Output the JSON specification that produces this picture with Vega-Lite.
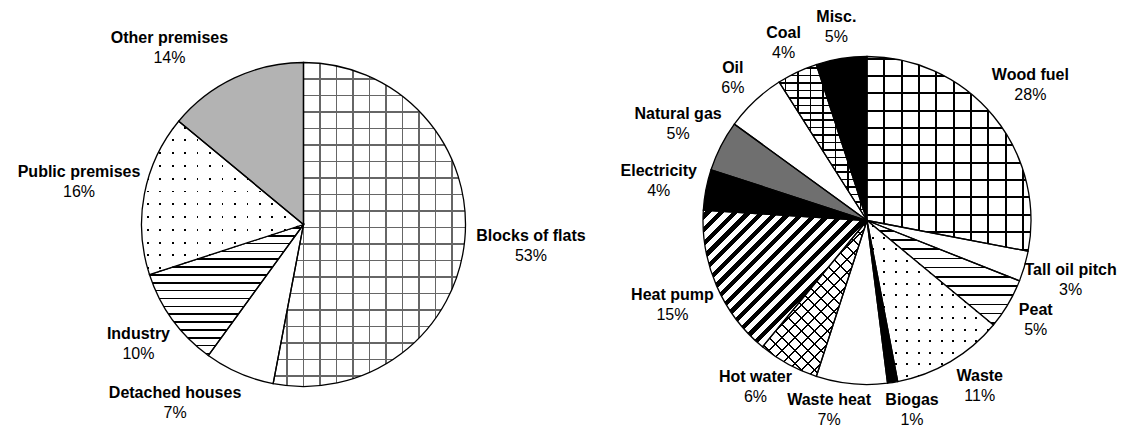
{
"$schema": "https://vega.github.io/schema/vega-lite/v6.json",
"padding": 0,
"spacing": 0,
"background": "white",
"config": {"view": {"stroke": null}, "text": {"font": "Liberation Sans", "fontSize": 16, "align": "center", "baseline": "middle", "color": "black"}},
"datasets": {
 "left": [
  {"cat": "Blocks of flats", "share": 0.53},
  {"cat": "Detached houses", "share": 0.07},
  {"cat": "Industry", "share": 0.10},
  {"cat": "Public premises", "share": 0.16},
  {"cat": "Other premises", "share": 0.14}
 ],
 "right": [
  {"cat": "Wood fuel", "share": 0.28},
  {"cat": "Tall oil pitch", "share": 0.03},
  {"cat": "Peat", "share": 0.05},
  {"cat": "Waste", "share": 0.11},
  {"cat": "Biogas", "share": 0.01},
  {"cat": "Waste heat", "share": 0.07},
  {"cat": "Hot water", "share": 0.06},
  {"cat": "Heat pump", "share": 0.15},
  {"cat": "Electricity", "share": 0.04},
  {"cat": "Natural gas", "share": 0.05},
  {"cat": "Oil", "share": 0.06},
  {"cat": "Coal", "share": 0.04},
  {"cat": "Misc.", "share": 0.05}
 ]
},
"hconcat": [
 {
  "width": 607, "height": 449,
  "data": {"name": "left"},
  "encoding": {"theta": {"field": "share", "type": "quantitative", "stack": true}},
  "layer": [
   {"mark": {"type": "arc", "outerRadius": 162},
    "encoding": {"fill": {"condition": [
     {"test": "datum.cat === 'Blocks of flats'", "value": {"gradient": "linear", "x1": 0, "y1": 0, "x2": 0, "y2": 1, "stops": [
      {"offset":0.0486,"color":"#fff"},{"offset":0.0486,"color":"#666"},{"offset":0.0532,"color":"#666"},{"offset":0.0532,"color":"#fff"},
      {"offset":0.0996,"color":"#fff"},{"offset":0.0996,"color":"#666"},{"offset":0.1042,"color":"#666"},{"offset":0.1042,"color":"#fff"},
      {"offset":0.1505,"color":"#fff"},{"offset":0.1505,"color":"#666"},{"offset":0.1551,"color":"#666"},{"offset":0.1551,"color":"#fff"},
      {"offset":0.2014,"color":"#fff"},{"offset":0.2014,"color":"#666"},{"offset":0.2060,"color":"#666"},{"offset":0.2060,"color":"#fff"},
      {"offset":0.2523,"color":"#fff"},{"offset":0.2523,"color":"#666"},{"offset":0.2569,"color":"#666"},{"offset":0.2569,"color":"#fff"},
      {"offset":0.3033,"color":"#fff"},{"offset":0.3033,"color":"#666"},{"offset":0.3079,"color":"#666"},{"offset":0.3079,"color":"#fff"},
      {"offset":0.3542,"color":"#fff"},{"offset":0.3542,"color":"#666"},{"offset":0.3588,"color":"#666"},{"offset":0.3588,"color":"#fff"},
      {"offset":0.4051,"color":"#fff"},{"offset":0.4051,"color":"#666"},{"offset":0.4097,"color":"#666"},{"offset":0.4097,"color":"#fff"},
      {"offset":0.4560,"color":"#fff"},{"offset":0.4560,"color":"#666"},{"offset":0.4606,"color":"#666"},{"offset":0.4606,"color":"#fff"},
      {"offset":0.5070,"color":"#fff"},{"offset":0.5070,"color":"#666"},{"offset":0.5116,"color":"#666"},{"offset":0.5116,"color":"#fff"},
      {"offset":0.5579,"color":"#fff"},{"offset":0.5579,"color":"#666"},{"offset":0.5625,"color":"#666"},{"offset":0.5625,"color":"#fff"},
      {"offset":0.6088,"color":"#fff"},{"offset":0.6088,"color":"#666"},{"offset":0.6134,"color":"#666"},{"offset":0.6134,"color":"#fff"},
      {"offset":0.6597,"color":"#fff"},{"offset":0.6597,"color":"#666"},{"offset":0.6643,"color":"#666"},{"offset":0.6643,"color":"#fff"},
      {"offset":0.7107,"color":"#fff"},{"offset":0.7107,"color":"#666"},{"offset":0.7153,"color":"#666"},{"offset":0.7153,"color":"#fff"},
      {"offset":0.7616,"color":"#fff"},{"offset":0.7616,"color":"#666"},{"offset":0.7662,"color":"#666"},{"offset":0.7662,"color":"#fff"},
      {"offset":0.8125,"color":"#fff"},{"offset":0.8125,"color":"#666"},{"offset":0.8171,"color":"#666"},{"offset":0.8171,"color":"#fff"},
      {"offset":0.8634,"color":"#fff"},{"offset":0.8634,"color":"#666"},{"offset":0.8680,"color":"#666"},{"offset":0.8680,"color":"#fff"},
      {"offset":0.9144,"color":"#fff"},{"offset":0.9144,"color":"#666"},{"offset":0.9190,"color":"#666"},{"offset":0.9190,"color":"#fff"},
      {"offset":0.9653,"color":"#fff"},{"offset":0.9653,"color":"#666"},{"offset":0.9699,"color":"#666"},{"offset":0.9699,"color":"#fff"}
     ]}},
     {"test": "datum.cat === 'Industry'", "value": {"gradient": "linear", "x1": 0, "y1": 0, "x2": 0, "y2": 1, "stops": [
      {"offset":0.0198,"color":"#fff"},{"offset":0.0198,"color":"#000"},{"offset":0.0320,"color":"#000"},{"offset":0.0320,"color":"#fff"},
      {"offset":0.0797,"color":"#fff"},{"offset":0.0797,"color":"#000"},{"offset":0.0919,"color":"#000"},{"offset":0.0919,"color":"#fff"},
      {"offset":0.1396,"color":"#fff"},{"offset":0.1396,"color":"#000"},{"offset":0.1518,"color":"#000"},{"offset":0.1518,"color":"#fff"},
      {"offset":0.1995,"color":"#fff"},{"offset":0.1995,"color":"#000"},{"offset":0.2117,"color":"#000"},{"offset":0.2117,"color":"#fff"},
      {"offset":0.2593,"color":"#fff"},{"offset":0.2593,"color":"#000"},{"offset":0.2715,"color":"#000"},{"offset":0.2715,"color":"#fff"},
      {"offset":0.3192,"color":"#fff"},{"offset":0.3192,"color":"#000"},{"offset":0.3314,"color":"#000"},{"offset":0.3314,"color":"#fff"},
      {"offset":0.3791,"color":"#fff"},{"offset":0.3791,"color":"#000"},{"offset":0.3913,"color":"#000"},{"offset":0.3913,"color":"#fff"},
      {"offset":0.4390,"color":"#fff"},{"offset":0.4390,"color":"#000"},{"offset":0.4512,"color":"#000"},{"offset":0.4512,"color":"#fff"},
      {"offset":0.4989,"color":"#fff"},{"offset":0.4989,"color":"#000"},{"offset":0.5111,"color":"#000"},{"offset":0.5111,"color":"#fff"},
      {"offset":0.5587,"color":"#fff"},{"offset":0.5587,"color":"#000"},{"offset":0.5709,"color":"#000"},{"offset":0.5709,"color":"#fff"},
      {"offset":0.6186,"color":"#fff"},{"offset":0.6186,"color":"#000"},{"offset":0.6308,"color":"#000"},{"offset":0.6308,"color":"#fff"},
      {"offset":0.6785,"color":"#fff"},{"offset":0.6785,"color":"#000"},{"offset":0.6907,"color":"#000"},{"offset":0.6907,"color":"#fff"},
      {"offset":0.7384,"color":"#fff"},{"offset":0.7384,"color":"#000"},{"offset":0.7506,"color":"#000"},{"offset":0.7506,"color":"#fff"},
      {"offset":0.7982,"color":"#fff"},{"offset":0.7982,"color":"#000"},{"offset":0.8104,"color":"#000"},{"offset":0.8104,"color":"#fff"},
      {"offset":0.8581,"color":"#fff"},{"offset":0.8581,"color":"#000"},{"offset":0.8703,"color":"#000"},{"offset":0.8703,"color":"#fff"},
      {"offset":0.9180,"color":"#fff"},{"offset":0.9180,"color":"#000"},{"offset":0.9302,"color":"#000"},{"offset":0.9302,"color":"#fff"},
      {"offset":0.9779,"color":"#fff"},{"offset":0.9779,"color":"#000"},{"offset":0.9901,"color":"#000"},{"offset":0.9901,"color":"#fff"}
     ]}},
     {"test": "datum.cat === 'Public premises'", "value": {"gradient": "linear", "x1": 0, "y1": 0, "x2": 0, "y2": 1, "stops": [
      {"offset":0.0358,"color":"#fff"},{"offset":0.0358,"color":"#000"},{"offset":0.0476,"color":"#000"},{"offset":0.0476,"color":"#fff"},
      {"offset":0.1191,"color":"#fff"},{"offset":0.1191,"color":"#000"},{"offset":0.1309,"color":"#000"},{"offset":0.1309,"color":"#fff"},
      {"offset":0.2024,"color":"#fff"},{"offset":0.2024,"color":"#000"},{"offset":0.2142,"color":"#000"},{"offset":0.2142,"color":"#fff"},
      {"offset":0.2858,"color":"#fff"},{"offset":0.2858,"color":"#000"},{"offset":0.2976,"color":"#000"},{"offset":0.2976,"color":"#fff"},
      {"offset":0.3691,"color":"#fff"},{"offset":0.3691,"color":"#000"},{"offset":0.3809,"color":"#000"},{"offset":0.3809,"color":"#fff"},
      {"offset":0.4524,"color":"#fff"},{"offset":0.4524,"color":"#000"},{"offset":0.4642,"color":"#000"},{"offset":0.4642,"color":"#fff"},
      {"offset":0.5358,"color":"#fff"},{"offset":0.5358,"color":"#000"},{"offset":0.5476,"color":"#000"},{"offset":0.5476,"color":"#fff"},
      {"offset":0.6191,"color":"#fff"},{"offset":0.6191,"color":"#000"},{"offset":0.6309,"color":"#000"},{"offset":0.6309,"color":"#fff"},
      {"offset":0.7024,"color":"#fff"},{"offset":0.7024,"color":"#000"},{"offset":0.7142,"color":"#000"},{"offset":0.7142,"color":"#fff"},
      {"offset":0.7858,"color":"#fff"},{"offset":0.7858,"color":"#000"},{"offset":0.7976,"color":"#000"},{"offset":0.7976,"color":"#fff"},
      {"offset":0.8691,"color":"#fff"},{"offset":0.8691,"color":"#000"},{"offset":0.8809,"color":"#000"},{"offset":0.8809,"color":"#fff"},
      {"offset":0.9524,"color":"#fff"},{"offset":0.9524,"color":"#000"},{"offset":0.9642,"color":"#000"},{"offset":0.9642,"color":"#fff"}
     ]}},
     {"test": "datum.cat === 'Other premises'", "value": "#b3b3b3"}
    ], "value": "white"}}},
   {"mark": {"type": "arc", "outerRadius": 162, "stroke": "black", "strokeWidth": 1.3},
    "encoding": {"fill": {"condition": [
     {"test": "datum.cat === 'Blocks of flats'", "value": {"gradient": "linear", "x1": 0, "y1": 0, "x2": 1, "y2": 0, "stops": [
      {"offset":0.0679,"color":"rgba(0,0,0,0)"},{"offset":0.0679,"color":"#666"},{"offset":0.0757,"color":"#666"},{"offset":0.0757,"color":"rgba(0,0,0,0)"},
      {"offset":0.1537,"color":"rgba(0,0,0,0)"},{"offset":0.1537,"color":"#666"},{"offset":0.1615,"color":"#666"},{"offset":0.1615,"color":"rgba(0,0,0,0)"},
      {"offset":0.2395,"color":"rgba(0,0,0,0)"},{"offset":0.2395,"color":"#666"},{"offset":0.2473,"color":"#666"},{"offset":0.2473,"color":"rgba(0,0,0,0)"},
      {"offset":0.3253,"color":"rgba(0,0,0,0)"},{"offset":0.3253,"color":"#666"},{"offset":0.3331,"color":"#666"},{"offset":0.3331,"color":"rgba(0,0,0,0)"},
      {"offset":0.4111,"color":"rgba(0,0,0,0)"},{"offset":0.4111,"color":"#666"},{"offset":0.4189,"color":"#666"},{"offset":0.4189,"color":"rgba(0,0,0,0)"},
      {"offset":0.4969,"color":"rgba(0,0,0,0)"},{"offset":0.4969,"color":"#666"},{"offset":0.5047,"color":"#666"},{"offset":0.5047,"color":"rgba(0,0,0,0)"},
      {"offset":0.5827,"color":"rgba(0,0,0,0)"},{"offset":0.5827,"color":"#666"},{"offset":0.5905,"color":"#666"},{"offset":0.5905,"color":"rgba(0,0,0,0)"},
      {"offset":0.6685,"color":"rgba(0,0,0,0)"},{"offset":0.6685,"color":"#666"},{"offset":0.6763,"color":"#666"},{"offset":0.6763,"color":"rgba(0,0,0,0)"},
      {"offset":0.7543,"color":"rgba(0,0,0,0)"},{"offset":0.7543,"color":"#666"},{"offset":0.7621,"color":"#666"},{"offset":0.7621,"color":"rgba(0,0,0,0)"},
      {"offset":0.8401,"color":"rgba(0,0,0,0)"},{"offset":0.8401,"color":"#666"},{"offset":0.8479,"color":"#666"},{"offset":0.8479,"color":"rgba(0,0,0,0)"},
      {"offset":0.9259,"color":"rgba(0,0,0,0)"},{"offset":0.9259,"color":"#666"},{"offset":0.9337,"color":"#666"},{"offset":0.9337,"color":"rgba(0,0,0,0)"}
     ]}},
     {"test": "datum.cat === 'Public premises'", "value": {"gradient": "linear", "x1": 0, "y1": 0, "x2": 1, "y2": 0, "stops": [
      {"offset":0.0329,"color":"#fff"},{"offset":0.0329,"color":"rgba(0,0,0,0)"},{"offset":0.0441,"color":"rgba(0,0,0,0)"},{"offset":0.0441,"color":"#fff"},
      {"offset":0.1098,"color":"#fff"},{"offset":0.1098,"color":"rgba(0,0,0,0)"},{"offset":0.1210,"color":"rgba(0,0,0,0)"},{"offset":0.1210,"color":"#fff"},
      {"offset":0.1867,"color":"#fff"},{"offset":0.1867,"color":"rgba(0,0,0,0)"},{"offset":0.1979,"color":"rgba(0,0,0,0)"},{"offset":0.1979,"color":"#fff"},
      {"offset":0.2636,"color":"#fff"},{"offset":0.2636,"color":"rgba(0,0,0,0)"},{"offset":0.2748,"color":"rgba(0,0,0,0)"},{"offset":0.2748,"color":"#fff"},
      {"offset":0.3406,"color":"#fff"},{"offset":0.3406,"color":"rgba(0,0,0,0)"},{"offset":0.3518,"color":"rgba(0,0,0,0)"},{"offset":0.3518,"color":"#fff"},
      {"offset":0.4175,"color":"#fff"},{"offset":0.4175,"color":"rgba(0,0,0,0)"},{"offset":0.4287,"color":"rgba(0,0,0,0)"},{"offset":0.4287,"color":"#fff"},
      {"offset":0.4944,"color":"#fff"},{"offset":0.4944,"color":"rgba(0,0,0,0)"},{"offset":0.5056,"color":"rgba(0,0,0,0)"},{"offset":0.5056,"color":"#fff"},
      {"offset":0.5713,"color":"#fff"},{"offset":0.5713,"color":"rgba(0,0,0,0)"},{"offset":0.5825,"color":"rgba(0,0,0,0)"},{"offset":0.5825,"color":"#fff"},
      {"offset":0.6482,"color":"#fff"},{"offset":0.6482,"color":"rgba(0,0,0,0)"},{"offset":0.6594,"color":"rgba(0,0,0,0)"},{"offset":0.6594,"color":"#fff"},
      {"offset":0.7252,"color":"#fff"},{"offset":0.7252,"color":"rgba(0,0,0,0)"},{"offset":0.7364,"color":"rgba(0,0,0,0)"},{"offset":0.7364,"color":"#fff"},
      {"offset":0.8021,"color":"#fff"},{"offset":0.8021,"color":"rgba(0,0,0,0)"},{"offset":0.8133,"color":"rgba(0,0,0,0)"},{"offset":0.8133,"color":"#fff"},
      {"offset":0.8790,"color":"#fff"},{"offset":0.8790,"color":"rgba(0,0,0,0)"},{"offset":0.8902,"color":"rgba(0,0,0,0)"},{"offset":0.8902,"color":"#fff"},
      {"offset":0.9559,"color":"#fff"},{"offset":0.9559,"color":"rgba(0,0,0,0)"},{"offset":0.9671,"color":"rgba(0,0,0,0)"},{"offset":0.9671,"color":"#fff"}
     ]}}
    ], "value": "transparent"}}},
   {"mark": {"type": "text", "radius": 228.5, "dy": -10, "fontWeight": "bold"},
    "encoding": {"text": {"condition": {"test": "datum.cat === 'Blocks of flats' || datum.cat === 'Public premises'", "value": {"expr": "datum.cat"}}, "value": ""},
     "size": {"condition": {"test": "datum.cat === 'Blocks of flats' || datum.cat === 'Public premises'", "value": 16}, "value": 0}}},
   {"mark": {"type": "text", "radius": 228.5, "dy": 10},
    "encoding": {"text": {"condition": {"test": "datum.cat === 'Blocks of flats' || datum.cat === 'Public premises'", "value": {"expr": "format(datum.share, '.0%')"}}, "value": ""},
     "size": {"condition": {"test": "datum.cat === 'Blocks of flats' || datum.cat === 'Public premises'", "value": 16}, "value": 0}}},
   {"mark": {"type": "text", "radius": 204, "dy": -10, "fontWeight": "bold"},
    "encoding": {"text": {"condition": {"test": "datum.cat === 'Industry'", "value": {"expr": "datum.cat"}}, "value": ""},
     "size": {"condition": {"test": "datum.cat === 'Industry'", "value": 16}, "value": 0}}},
   {"mark": {"type": "text", "radius": 204, "dy": 10},
    "encoding": {"text": {"condition": {"test": "datum.cat === 'Industry'", "value": {"expr": "format(datum.share, '.0%')"}}, "value": ""},
     "size": {"condition": {"test": "datum.cat === 'Industry'", "value": 16}, "value": 0}}},
   {"mark": {"type": "text", "radius": 195, "dx": -51, "dy": -10, "fontWeight": "bold"},
    "encoding": {"text": {"condition": {"test": "datum.cat === 'Other premises' || datum.cat === 'Detached houses'", "value": {"expr": "datum.cat"}}, "value": ""},
     "size": {"condition": {"test": "datum.cat === 'Other premises' || datum.cat === 'Detached houses'", "value": 16}, "value": 0}}},
   {"mark": {"type": "text", "radius": 195, "dx": -51, "dy": 10},
    "encoding": {"text": {"condition": {"test": "datum.cat === 'Other premises' || datum.cat === 'Detached houses'", "value": {"expr": "format(datum.share, '.0%')"}}, "value": ""},
     "size": {"condition": {"test": "datum.cat === 'Other premises' || datum.cat === 'Detached houses'", "value": 16}, "value": 0}}}
  ]
 },
 {
  "width": 520, "height": 441,
  "data": {"name": "right"},
  "encoding": {"theta": {"field": "share", "type": "quantitative", "stack": true}},
  "layer": [
   {"mark": {"type": "arc", "outerRadius": 164},
    "encoding": {"fill": {"condition": [
     {"test": "datum.cat === 'Wood fuel'", "value": {"gradient": "linear", "x1": 0, "y1": 0, "x2": 0, "y2": 1, "stops": [
      {"offset":0.0059,"color":"#fff"},{"offset":0.0059,"color":"#000"},{"offset":0.0161,"color":"#000"},{"offset":0.0161,"color":"#fff"},
      {"offset":0.0951,"color":"#fff"},{"offset":0.0951,"color":"#000"},{"offset":0.1053,"color":"#000"},{"offset":0.1053,"color":"#fff"},
      {"offset":0.1842,"color":"#fff"},{"offset":0.1842,"color":"#000"},{"offset":0.1944,"color":"#000"},{"offset":0.1944,"color":"#fff"},
      {"offset":0.2733,"color":"#fff"},{"offset":0.2733,"color":"#000"},{"offset":0.2835,"color":"#000"},{"offset":0.2835,"color":"#fff"},
      {"offset":0.3624,"color":"#fff"},{"offset":0.3624,"color":"#000"},{"offset":0.3726,"color":"#000"},{"offset":0.3726,"color":"#fff"},
      {"offset":0.4515,"color":"#fff"},{"offset":0.4515,"color":"#000"},{"offset":0.4617,"color":"#000"},{"offset":0.4617,"color":"#fff"},
      {"offset":0.5406,"color":"#fff"},{"offset":0.5406,"color":"#000"},{"offset":0.5508,"color":"#000"},{"offset":0.5508,"color":"#fff"},
      {"offset":0.6297,"color":"#fff"},{"offset":0.6297,"color":"#000"},{"offset":0.6399,"color":"#000"},{"offset":0.6399,"color":"#fff"},
      {"offset":0.7188,"color":"#fff"},{"offset":0.7188,"color":"#000"},{"offset":0.7290,"color":"#000"},{"offset":0.7290,"color":"#fff"},
      {"offset":0.8079,"color":"#fff"},{"offset":0.8079,"color":"#000"},{"offset":0.8181,"color":"#000"},{"offset":0.8181,"color":"#fff"},
      {"offset":0.8971,"color":"#fff"},{"offset":0.8971,"color":"#000"},{"offset":0.9073,"color":"#000"},{"offset":0.9073,"color":"#fff"},
      {"offset":0.9862,"color":"#fff"},{"offset":0.9862,"color":"#000"},{"offset":0.9964,"color":"#000"},{"offset":0.9964,"color":"#fff"}
     ]}},
     {"test": "datum.cat === 'Peat'", "value": {"gradient": "linear", "x1": 0, "y1": 0, "x2": 0, "y2": 1, "stops": [
      {"offset":0.0024,"color":"#fff"},{"offset":0.0024,"color":"#000"},{"offset":0.0186,"color":"#000"},{"offset":0.0186,"color":"#fff"},
      {"offset":0.0905,"color":"#fff"},{"offset":0.0905,"color":"#000"},{"offset":0.1067,"color":"#000"},{"offset":0.1067,"color":"#fff"},
      {"offset":0.1785,"color":"#fff"},{"offset":0.1785,"color":"#000"},{"offset":0.1947,"color":"#000"},{"offset":0.1947,"color":"#fff"},
      {"offset":0.2665,"color":"#fff"},{"offset":0.2665,"color":"#000"},{"offset":0.2827,"color":"#000"},{"offset":0.2827,"color":"#fff"},
      {"offset":0.3546,"color":"#fff"},{"offset":0.3546,"color":"#000"},{"offset":0.3708,"color":"#000"},{"offset":0.3708,"color":"#fff"},
      {"offset":0.4426,"color":"#fff"},{"offset":0.4426,"color":"#000"},{"offset":0.4588,"color":"#000"},{"offset":0.4588,"color":"#fff"},
      {"offset":0.5307,"color":"#fff"},{"offset":0.5307,"color":"#000"},{"offset":0.5469,"color":"#000"},{"offset":0.5469,"color":"#fff"},
      {"offset":0.6187,"color":"#fff"},{"offset":0.6187,"color":"#000"},{"offset":0.6349,"color":"#000"},{"offset":0.6349,"color":"#fff"},
      {"offset":0.7067,"color":"#fff"},{"offset":0.7067,"color":"#000"},{"offset":0.7229,"color":"#000"},{"offset":0.7229,"color":"#fff"},
      {"offset":0.7948,"color":"#fff"},{"offset":0.7948,"color":"#000"},{"offset":0.8110,"color":"#000"},{"offset":0.8110,"color":"#fff"},
      {"offset":0.8828,"color":"#fff"},{"offset":0.8828,"color":"#000"},{"offset":0.8990,"color":"#000"},{"offset":0.8990,"color":"#fff"},
      {"offset":0.9708,"color":"#fff"},{"offset":0.9708,"color":"#000"},{"offset":0.9870,"color":"#000"},{"offset":0.9870,"color":"#fff"}
     ]}},
     {"test": "datum.cat === 'Waste'", "value": {"gradient": "linear", "x1": 0, "y1": 0, "x2": 0, "y2": 1, "stops": [
      {"offset":0.0295,"color":"#fff"},{"offset":0.0295,"color":"#000"},{"offset":0.0419,"color":"#000"},{"offset":0.0419,"color":"#fff"},
      {"offset":0.1009,"color":"#fff"},{"offset":0.1009,"color":"#000"},{"offset":0.1133,"color":"#000"},{"offset":0.1133,"color":"#fff"},
      {"offset":0.1724,"color":"#fff"},{"offset":0.1724,"color":"#000"},{"offset":0.1848,"color":"#000"},{"offset":0.1848,"color":"#fff"},
      {"offset":0.2438,"color":"#fff"},{"offset":0.2438,"color":"#000"},{"offset":0.2562,"color":"#000"},{"offset":0.2562,"color":"#fff"},
      {"offset":0.3152,"color":"#fff"},{"offset":0.3152,"color":"#000"},{"offset":0.3276,"color":"#000"},{"offset":0.3276,"color":"#fff"},
      {"offset":0.3867,"color":"#fff"},{"offset":0.3867,"color":"#000"},{"offset":0.3991,"color":"#000"},{"offset":0.3991,"color":"#fff"},
      {"offset":0.4581,"color":"#fff"},{"offset":0.4581,"color":"#000"},{"offset":0.4705,"color":"#000"},{"offset":0.4705,"color":"#fff"},
      {"offset":0.5295,"color":"#fff"},{"offset":0.5295,"color":"#000"},{"offset":0.5419,"color":"#000"},{"offset":0.5419,"color":"#fff"},
      {"offset":0.6009,"color":"#fff"},{"offset":0.6009,"color":"#000"},{"offset":0.6133,"color":"#000"},{"offset":0.6133,"color":"#fff"},
      {"offset":0.6724,"color":"#fff"},{"offset":0.6724,"color":"#000"},{"offset":0.6848,"color":"#000"},{"offset":0.6848,"color":"#fff"},
      {"offset":0.7438,"color":"#fff"},{"offset":0.7438,"color":"#000"},{"offset":0.7562,"color":"#000"},{"offset":0.7562,"color":"#fff"},
      {"offset":0.8152,"color":"#fff"},{"offset":0.8152,"color":"#000"},{"offset":0.8276,"color":"#000"},{"offset":0.8276,"color":"#fff"},
      {"offset":0.8867,"color":"#fff"},{"offset":0.8867,"color":"#000"},{"offset":0.8991,"color":"#000"},{"offset":0.8991,"color":"#fff"},
      {"offset":0.9581,"color":"#fff"},{"offset":0.9581,"color":"#000"},{"offset":0.9705,"color":"#000"},{"offset":0.9705,"color":"#fff"}
     ]}},
     {"test": "datum.cat === 'Biogas' || datum.cat === 'Electricity' || datum.cat === 'Misc.'", "value": "black"},
     {"test": "datum.cat === 'Natural gas'", "value": "#6f6f6f"},
     {"test": "datum.cat === 'Hot water'", "value": {"gradient": "linear", "x1": 0, "y1": 0, "x2": 0.7725, "y2": 1.152, "stops": [
      {"offset":0.0215,"color":"#fff"},{"offset":0.0215,"color":"#000"},{"offset":0.0285,"color":"#000"},{"offset":0.0285,"color":"#fff"},
      {"offset":0.0715,"color":"#fff"},{"offset":0.0715,"color":"#000"},{"offset":0.0785,"color":"#000"},{"offset":0.0785,"color":"#fff"},
      {"offset":0.1215,"color":"#fff"},{"offset":0.1215,"color":"#000"},{"offset":0.1285,"color":"#000"},{"offset":0.1285,"color":"#fff"},
      {"offset":0.1715,"color":"#fff"},{"offset":0.1715,"color":"#000"},{"offset":0.1785,"color":"#000"},{"offset":0.1785,"color":"#fff"},
      {"offset":0.2215,"color":"#fff"},{"offset":0.2215,"color":"#000"},{"offset":0.2285,"color":"#000"},{"offset":0.2285,"color":"#fff"},
      {"offset":0.2715,"color":"#fff"},{"offset":0.2715,"color":"#000"},{"offset":0.2785,"color":"#000"},{"offset":0.2785,"color":"#fff"},
      {"offset":0.3215,"color":"#fff"},{"offset":0.3215,"color":"#000"},{"offset":0.3285,"color":"#000"},{"offset":0.3285,"color":"#fff"},
      {"offset":0.3715,"color":"#fff"},{"offset":0.3715,"color":"#000"},{"offset":0.3785,"color":"#000"},{"offset":0.3785,"color":"#fff"},
      {"offset":0.4215,"color":"#fff"},{"offset":0.4215,"color":"#000"},{"offset":0.4285,"color":"#000"},{"offset":0.4285,"color":"#fff"},
      {"offset":0.4715,"color":"#fff"},{"offset":0.4715,"color":"#000"},{"offset":0.4785,"color":"#000"},{"offset":0.4785,"color":"#fff"},
      {"offset":0.5215,"color":"#fff"},{"offset":0.5215,"color":"#000"},{"offset":0.5285,"color":"#000"},{"offset":0.5285,"color":"#fff"},
      {"offset":0.5715,"color":"#fff"},{"offset":0.5715,"color":"#000"},{"offset":0.5785,"color":"#000"},{"offset":0.5785,"color":"#fff"},
      {"offset":0.6215,"color":"#fff"},{"offset":0.6215,"color":"#000"},{"offset":0.6285,"color":"#000"},{"offset":0.6285,"color":"#fff"},
      {"offset":0.6715,"color":"#fff"},{"offset":0.6715,"color":"#000"},{"offset":0.6785,"color":"#000"},{"offset":0.6785,"color":"#fff"},
      {"offset":0.7215,"color":"#fff"},{"offset":0.7215,"color":"#000"},{"offset":0.7285,"color":"#000"},{"offset":0.7285,"color":"#fff"},
      {"offset":0.7715,"color":"#fff"},{"offset":0.7715,"color":"#000"},{"offset":0.7785,"color":"#000"},{"offset":0.7785,"color":"#fff"},
      {"offset":0.8215,"color":"#fff"},{"offset":0.8215,"color":"#000"},{"offset":0.8285,"color":"#000"},{"offset":0.8285,"color":"#fff"},
      {"offset":0.8715,"color":"#fff"},{"offset":0.8715,"color":"#000"},{"offset":0.8785,"color":"#000"},{"offset":0.8785,"color":"#fff"},
      {"offset":0.9215,"color":"#fff"},{"offset":0.9215,"color":"#000"},{"offset":0.9285,"color":"#000"},{"offset":0.9285,"color":"#fff"},
      {"offset":0.9715,"color":"#fff"},{"offset":0.9715,"color":"#000"},{"offset":0.9785,"color":"#000"},{"offset":0.9785,"color":"#fff"}
     ]}},
     {"test": "datum.cat === 'Heat pump'", "value": {"gradient": "linear", "x1": 0, "y1": 0, "x2": 1.0822, "y2": 0.9012, "stops": [
      {"offset":0.0125,"color":"#fff"},{"offset":0.0125,"color":"#000"},{"offset":0.0329,"color":"#000"},{"offset":0.0329,"color":"#fff"},
      {"offset":0.0580,"color":"#fff"},{"offset":0.0580,"color":"#000"},{"offset":0.0784,"color":"#000"},{"offset":0.0784,"color":"#fff"},
      {"offset":0.1034,"color":"#fff"},{"offset":0.1034,"color":"#000"},{"offset":0.1238,"color":"#000"},{"offset":0.1238,"color":"#fff"},
      {"offset":0.1489,"color":"#fff"},{"offset":0.1489,"color":"#000"},{"offset":0.1693,"color":"#000"},{"offset":0.1693,"color":"#fff"},
      {"offset":0.1943,"color":"#fff"},{"offset":0.1943,"color":"#000"},{"offset":0.2147,"color":"#000"},{"offset":0.2147,"color":"#fff"},
      {"offset":0.2398,"color":"#fff"},{"offset":0.2398,"color":"#000"},{"offset":0.2602,"color":"#000"},{"offset":0.2602,"color":"#fff"},
      {"offset":0.2853,"color":"#fff"},{"offset":0.2853,"color":"#000"},{"offset":0.3057,"color":"#000"},{"offset":0.3057,"color":"#fff"},
      {"offset":0.3307,"color":"#fff"},{"offset":0.3307,"color":"#000"},{"offset":0.3511,"color":"#000"},{"offset":0.3511,"color":"#fff"},
      {"offset":0.3762,"color":"#fff"},{"offset":0.3762,"color":"#000"},{"offset":0.3966,"color":"#000"},{"offset":0.3966,"color":"#fff"},
      {"offset":0.4216,"color":"#fff"},{"offset":0.4216,"color":"#000"},{"offset":0.4420,"color":"#000"},{"offset":0.4420,"color":"#fff"},
      {"offset":0.4671,"color":"#fff"},{"offset":0.4671,"color":"#000"},{"offset":0.4875,"color":"#000"},{"offset":0.4875,"color":"#fff"},
      {"offset":0.5125,"color":"#fff"},{"offset":0.5125,"color":"#000"},{"offset":0.5329,"color":"#000"},{"offset":0.5329,"color":"#fff"},
      {"offset":0.5580,"color":"#fff"},{"offset":0.5580,"color":"#000"},{"offset":0.5784,"color":"#000"},{"offset":0.5784,"color":"#fff"},
      {"offset":0.6034,"color":"#fff"},{"offset":0.6034,"color":"#000"},{"offset":0.6238,"color":"#000"},{"offset":0.6238,"color":"#fff"},
      {"offset":0.6489,"color":"#fff"},{"offset":0.6489,"color":"#000"},{"offset":0.6693,"color":"#000"},{"offset":0.6693,"color":"#fff"},
      {"offset":0.6943,"color":"#fff"},{"offset":0.6943,"color":"#000"},{"offset":0.7147,"color":"#000"},{"offset":0.7147,"color":"#fff"},
      {"offset":0.7398,"color":"#fff"},{"offset":0.7398,"color":"#000"},{"offset":0.7602,"color":"#000"},{"offset":0.7602,"color":"#fff"},
      {"offset":0.7853,"color":"#fff"},{"offset":0.7853,"color":"#000"},{"offset":0.8057,"color":"#000"},{"offset":0.8057,"color":"#fff"},
      {"offset":0.8307,"color":"#fff"},{"offset":0.8307,"color":"#000"},{"offset":0.8511,"color":"#000"},{"offset":0.8511,"color":"#fff"},
      {"offset":0.8762,"color":"#fff"},{"offset":0.8762,"color":"#000"},{"offset":0.8966,"color":"#000"},{"offset":0.8966,"color":"#fff"},
      {"offset":0.9216,"color":"#fff"},{"offset":0.9216,"color":"#000"},{"offset":0.9420,"color":"#000"},{"offset":0.9420,"color":"#fff"},
      {"offset":0.9671,"color":"#fff"},{"offset":0.9671,"color":"#000"},{"offset":0.9875,"color":"#000"},{"offset":0.9875,"color":"#fff"}
     ]}},
     {"test": "datum.cat === 'Coal'", "value": {"gradient": "linear", "x1": 0, "y1": 0, "x2": 0, "y2": 1, "stops": [
      {"offset":0.0190,"color":"#fff"},{"offset":0.0190,"color":"#000"},{"offset":0.0286,"color":"#000"},{"offset":0.0286,"color":"#fff"},
      {"offset":0.0666,"color":"#fff"},{"offset":0.0666,"color":"#000"},{"offset":0.0762,"color":"#000"},{"offset":0.0762,"color":"#fff"},
      {"offset":0.1142,"color":"#fff"},{"offset":0.1142,"color":"#000"},{"offset":0.1238,"color":"#000"},{"offset":0.1238,"color":"#fff"},
      {"offset":0.1619,"color":"#fff"},{"offset":0.1619,"color":"#000"},{"offset":0.1715,"color":"#000"},{"offset":0.1715,"color":"#fff"},
      {"offset":0.2095,"color":"#fff"},{"offset":0.2095,"color":"#000"},{"offset":0.2191,"color":"#000"},{"offset":0.2191,"color":"#fff"},
      {"offset":0.2571,"color":"#fff"},{"offset":0.2571,"color":"#000"},{"offset":0.2667,"color":"#000"},{"offset":0.2667,"color":"#fff"},
      {"offset":0.3047,"color":"#fff"},{"offset":0.3047,"color":"#000"},{"offset":0.3143,"color":"#000"},{"offset":0.3143,"color":"#fff"},
      {"offset":0.3523,"color":"#fff"},{"offset":0.3523,"color":"#000"},{"offset":0.3619,"color":"#000"},{"offset":0.3619,"color":"#fff"},
      {"offset":0.4000,"color":"#fff"},{"offset":0.4000,"color":"#000"},{"offset":0.4096,"color":"#000"},{"offset":0.4096,"color":"#fff"},
      {"offset":0.4476,"color":"#fff"},{"offset":0.4476,"color":"#000"},{"offset":0.4572,"color":"#000"},{"offset":0.4572,"color":"#fff"},
      {"offset":0.4952,"color":"#fff"},{"offset":0.4952,"color":"#000"},{"offset":0.5048,"color":"#000"},{"offset":0.5048,"color":"#fff"},
      {"offset":0.5428,"color":"#fff"},{"offset":0.5428,"color":"#000"},{"offset":0.5524,"color":"#000"},{"offset":0.5524,"color":"#fff"},
      {"offset":0.5904,"color":"#fff"},{"offset":0.5904,"color":"#000"},{"offset":0.6000,"color":"#000"},{"offset":0.6000,"color":"#fff"},
      {"offset":0.6381,"color":"#fff"},{"offset":0.6381,"color":"#000"},{"offset":0.6477,"color":"#000"},{"offset":0.6477,"color":"#fff"},
      {"offset":0.6857,"color":"#fff"},{"offset":0.6857,"color":"#000"},{"offset":0.6953,"color":"#000"},{"offset":0.6953,"color":"#fff"},
      {"offset":0.7333,"color":"#fff"},{"offset":0.7333,"color":"#000"},{"offset":0.7429,"color":"#000"},{"offset":0.7429,"color":"#fff"},
      {"offset":0.7809,"color":"#fff"},{"offset":0.7809,"color":"#000"},{"offset":0.7905,"color":"#000"},{"offset":0.7905,"color":"#fff"},
      {"offset":0.8285,"color":"#fff"},{"offset":0.8285,"color":"#000"},{"offset":0.8381,"color":"#000"},{"offset":0.8381,"color":"#fff"},
      {"offset":0.8762,"color":"#fff"},{"offset":0.8762,"color":"#000"},{"offset":0.8858,"color":"#000"},{"offset":0.8858,"color":"#fff"},
      {"offset":0.9238,"color":"#fff"},{"offset":0.9238,"color":"#000"},{"offset":0.9334,"color":"#000"},{"offset":0.9334,"color":"#fff"},
      {"offset":0.9714,"color":"#fff"},{"offset":0.9714,"color":"#000"},{"offset":0.9810,"color":"#000"},{"offset":0.9810,"color":"#fff"}
     ]}}
    ], "value": "white"}}},
   {"mark": {"type": "arc", "outerRadius": 164, "stroke": "black", "strokeWidth": 1.3},
    "encoding": {"fill": {"condition": [
     {"test": "datum.cat === 'Wood fuel'", "value": {"gradient": "linear", "x1": 0, "y1": 0, "x2": 1, "y2": 0, "stops": [
      {"offset":0.0997,"color":"rgba(0,0,0,0)"},{"offset":0.0997,"color":"#000"},{"offset":0.1119,"color":"#000"},{"offset":0.1119,"color":"rgba(0,0,0,0)"},
      {"offset":0.2055,"color":"rgba(0,0,0,0)"},{"offset":0.2055,"color":"#000"},{"offset":0.2177,"color":"#000"},{"offset":0.2177,"color":"rgba(0,0,0,0)"},
      {"offset":0.3113,"color":"rgba(0,0,0,0)"},{"offset":0.3113,"color":"#000"},{"offset":0.3235,"color":"#000"},{"offset":0.3235,"color":"rgba(0,0,0,0)"},
      {"offset":0.4171,"color":"rgba(0,0,0,0)"},{"offset":0.4171,"color":"#000"},{"offset":0.4293,"color":"#000"},{"offset":0.4293,"color":"rgba(0,0,0,0)"},
      {"offset":0.5229,"color":"rgba(0,0,0,0)"},{"offset":0.5229,"color":"#000"},{"offset":0.5351,"color":"#000"},{"offset":0.5351,"color":"rgba(0,0,0,0)"},
      {"offset":0.6287,"color":"rgba(0,0,0,0)"},{"offset":0.6287,"color":"#000"},{"offset":0.6409,"color":"#000"},{"offset":0.6409,"color":"rgba(0,0,0,0)"},
      {"offset":0.7344,"color":"rgba(0,0,0,0)"},{"offset":0.7344,"color":"#000"},{"offset":0.7466,"color":"#000"},{"offset":0.7466,"color":"rgba(0,0,0,0)"},
      {"offset":0.8402,"color":"rgba(0,0,0,0)"},{"offset":0.8402,"color":"#000"},{"offset":0.8524,"color":"#000"},{"offset":0.8524,"color":"rgba(0,0,0,0)"},
      {"offset":0.9460,"color":"rgba(0,0,0,0)"},{"offset":0.9460,"color":"#000"},{"offset":0.9582,"color":"#000"},{"offset":0.9582,"color":"rgba(0,0,0,0)"}
     ]}},
     {"test": "datum.cat === 'Waste'", "value": {"gradient": "linear", "x1": 0, "y1": 0, "x2": 1, "y2": 0, "stops": [
      {"offset":0.0376,"color":"#fff"},{"offset":0.0376,"color":"rgba(0,0,0,0)"},{"offset":0.0534,"color":"rgba(0,0,0,0)"},{"offset":0.0534,"color":"#fff"},
      {"offset":0.1285,"color":"#fff"},{"offset":0.1285,"color":"rgba(0,0,0,0)"},{"offset":0.1443,"color":"rgba(0,0,0,0)"},{"offset":0.1443,"color":"#fff"},
      {"offset":0.2194,"color":"#fff"},{"offset":0.2194,"color":"rgba(0,0,0,0)"},{"offset":0.2352,"color":"rgba(0,0,0,0)"},{"offset":0.2352,"color":"#fff"},
      {"offset":0.3103,"color":"#fff"},{"offset":0.3103,"color":"rgba(0,0,0,0)"},{"offset":0.3261,"color":"rgba(0,0,0,0)"},{"offset":0.3261,"color":"#fff"},
      {"offset":0.4012,"color":"#fff"},{"offset":0.4012,"color":"rgba(0,0,0,0)"},{"offset":0.4170,"color":"rgba(0,0,0,0)"},{"offset":0.4170,"color":"#fff"},
      {"offset":0.4921,"color":"#fff"},{"offset":0.4921,"color":"rgba(0,0,0,0)"},{"offset":0.5079,"color":"rgba(0,0,0,0)"},{"offset":0.5079,"color":"#fff"},
      {"offset":0.5830,"color":"#fff"},{"offset":0.5830,"color":"rgba(0,0,0,0)"},{"offset":0.5988,"color":"rgba(0,0,0,0)"},{"offset":0.5988,"color":"#fff"},
      {"offset":0.6739,"color":"#fff"},{"offset":0.6739,"color":"rgba(0,0,0,0)"},{"offset":0.6897,"color":"rgba(0,0,0,0)"},{"offset":0.6897,"color":"#fff"},
      {"offset":0.7648,"color":"#fff"},{"offset":0.7648,"color":"rgba(0,0,0,0)"},{"offset":0.7806,"color":"rgba(0,0,0,0)"},{"offset":0.7806,"color":"#fff"},
      {"offset":0.8557,"color":"#fff"},{"offset":0.8557,"color":"rgba(0,0,0,0)"},{"offset":0.8715,"color":"rgba(0,0,0,0)"},{"offset":0.8715,"color":"#fff"},
      {"offset":0.9466,"color":"#fff"},{"offset":0.9466,"color":"rgba(0,0,0,0)"},{"offset":0.9624,"color":"rgba(0,0,0,0)"},{"offset":0.9624,"color":"#fff"}
     ]}},
     {"test": "datum.cat === 'Hot water'", "value": {"gradient": "linear", "x1": 0, "y1": 1, "x2": 0.7725, "y2": -0.152, "stops": [
      {"offset":0.0215,"color":"rgba(0,0,0,0)"},{"offset":0.0215,"color":"#000"},{"offset":0.0285,"color":"#000"},{"offset":0.0285,"color":"rgba(0,0,0,0)"},
      {"offset":0.0715,"color":"rgba(0,0,0,0)"},{"offset":0.0715,"color":"#000"},{"offset":0.0785,"color":"#000"},{"offset":0.0785,"color":"rgba(0,0,0,0)"},
      {"offset":0.1215,"color":"rgba(0,0,0,0)"},{"offset":0.1215,"color":"#000"},{"offset":0.1285,"color":"#000"},{"offset":0.1285,"color":"rgba(0,0,0,0)"},
      {"offset":0.1715,"color":"rgba(0,0,0,0)"},{"offset":0.1715,"color":"#000"},{"offset":0.1785,"color":"#000"},{"offset":0.1785,"color":"rgba(0,0,0,0)"},
      {"offset":0.2215,"color":"rgba(0,0,0,0)"},{"offset":0.2215,"color":"#000"},{"offset":0.2285,"color":"#000"},{"offset":0.2285,"color":"rgba(0,0,0,0)"},
      {"offset":0.2715,"color":"rgba(0,0,0,0)"},{"offset":0.2715,"color":"#000"},{"offset":0.2785,"color":"#000"},{"offset":0.2785,"color":"rgba(0,0,0,0)"},
      {"offset":0.3215,"color":"rgba(0,0,0,0)"},{"offset":0.3215,"color":"#000"},{"offset":0.3285,"color":"#000"},{"offset":0.3285,"color":"rgba(0,0,0,0)"},
      {"offset":0.3715,"color":"rgba(0,0,0,0)"},{"offset":0.3715,"color":"#000"},{"offset":0.3785,"color":"#000"},{"offset":0.3785,"color":"rgba(0,0,0,0)"},
      {"offset":0.4215,"color":"rgba(0,0,0,0)"},{"offset":0.4215,"color":"#000"},{"offset":0.4285,"color":"#000"},{"offset":0.4285,"color":"rgba(0,0,0,0)"},
      {"offset":0.4715,"color":"rgba(0,0,0,0)"},{"offset":0.4715,"color":"#000"},{"offset":0.4785,"color":"#000"},{"offset":0.4785,"color":"rgba(0,0,0,0)"},
      {"offset":0.5215,"color":"rgba(0,0,0,0)"},{"offset":0.5215,"color":"#000"},{"offset":0.5285,"color":"#000"},{"offset":0.5285,"color":"rgba(0,0,0,0)"},
      {"offset":0.5715,"color":"rgba(0,0,0,0)"},{"offset":0.5715,"color":"#000"},{"offset":0.5785,"color":"#000"},{"offset":0.5785,"color":"rgba(0,0,0,0)"},
      {"offset":0.6215,"color":"rgba(0,0,0,0)"},{"offset":0.6215,"color":"#000"},{"offset":0.6285,"color":"#000"},{"offset":0.6285,"color":"rgba(0,0,0,0)"},
      {"offset":0.6715,"color":"rgba(0,0,0,0)"},{"offset":0.6715,"color":"#000"},{"offset":0.6785,"color":"#000"},{"offset":0.6785,"color":"rgba(0,0,0,0)"},
      {"offset":0.7215,"color":"rgba(0,0,0,0)"},{"offset":0.7215,"color":"#000"},{"offset":0.7285,"color":"#000"},{"offset":0.7285,"color":"rgba(0,0,0,0)"},
      {"offset":0.7715,"color":"rgba(0,0,0,0)"},{"offset":0.7715,"color":"#000"},{"offset":0.7785,"color":"#000"},{"offset":0.7785,"color":"rgba(0,0,0,0)"},
      {"offset":0.8215,"color":"rgba(0,0,0,0)"},{"offset":0.8215,"color":"#000"},{"offset":0.8285,"color":"#000"},{"offset":0.8285,"color":"rgba(0,0,0,0)"},
      {"offset":0.8715,"color":"rgba(0,0,0,0)"},{"offset":0.8715,"color":"#000"},{"offset":0.8785,"color":"#000"},{"offset":0.8785,"color":"rgba(0,0,0,0)"},
      {"offset":0.9215,"color":"rgba(0,0,0,0)"},{"offset":0.9215,"color":"#000"},{"offset":0.9285,"color":"#000"},{"offset":0.9285,"color":"rgba(0,0,0,0)"},
      {"offset":0.9715,"color":"rgba(0,0,0,0)"},{"offset":0.9715,"color":"#000"},{"offset":0.9785,"color":"#000"},{"offset":0.9785,"color":"rgba(0,0,0,0)"}
     ]}},
     {"test": "datum.cat === 'Coal'", "value": {"gradient": "linear", "x1": 0, "y1": 0, "x2": 1, "y2": 0, "stops": [
      {"offset":0.0629,"color":"rgba(0,0,0,0)"},{"offset":0.0629,"color":"#000"},{"offset":0.0799,"color":"#000"},{"offset":0.0799,"color":"rgba(0,0,0,0)"},
      {"offset":0.2058,"color":"rgba(0,0,0,0)"},{"offset":0.2058,"color":"#000"},{"offset":0.2228,"color":"#000"},{"offset":0.2228,"color":"rgba(0,0,0,0)"},
      {"offset":0.3486,"color":"rgba(0,0,0,0)"},{"offset":0.3486,"color":"#000"},{"offset":0.3656,"color":"#000"},{"offset":0.3656,"color":"rgba(0,0,0,0)"},
      {"offset":0.4915,"color":"rgba(0,0,0,0)"},{"offset":0.4915,"color":"#000"},{"offset":0.5085,"color":"#000"},{"offset":0.5085,"color":"rgba(0,0,0,0)"},
      {"offset":0.6344,"color":"rgba(0,0,0,0)"},{"offset":0.6344,"color":"#000"},{"offset":0.6514,"color":"#000"},{"offset":0.6514,"color":"rgba(0,0,0,0)"},
      {"offset":0.7772,"color":"rgba(0,0,0,0)"},{"offset":0.7772,"color":"#000"},{"offset":0.7942,"color":"#000"},{"offset":0.7942,"color":"rgba(0,0,0,0)"},
      {"offset":0.9201,"color":"rgba(0,0,0,0)"},{"offset":0.9201,"color":"#000"},{"offset":0.9371,"color":"#000"},{"offset":0.9371,"color":"rgba(0,0,0,0)"}
     ]}}
    ], "value": "transparent"}}},
   {"mark": {"type": "text", "radius": 212, "dy": -10, "fontWeight": "bold"},
    "encoding": {"text": {"condition": {"test": "indexof(['Wood fuel','Tall oil pitch','Heat pump','Electricity','Natural gas'], datum.cat) >= 0", "value": {"expr": "datum.cat"}}, "value": ""},
     "size": {"condition": {"test": "indexof(['Wood fuel','Tall oil pitch','Heat pump','Electricity','Natural gas'], datum.cat) >= 0", "value": 16}, "value": 0}}},
   {"mark": {"type": "text", "radius": 212, "dy": 10},
    "encoding": {"text": {"condition": {"test": "indexof(['Wood fuel','Tall oil pitch','Heat pump','Electricity','Natural gas'], datum.cat) >= 0", "value": {"expr": "format(datum.share, '.0%')"}}, "value": ""},
     "size": {"condition": {"test": "indexof(['Wood fuel','Tall oil pitch','Heat pump','Electricity','Natural gas'], datum.cat) >= 0", "value": 16}, "value": 0}}},
   {"mark": {"type": "text", "radius": 196, "dy": -10, "fontWeight": "bold"},
    "encoding": {"text": {"condition": {"test": "indexof(['Peat','Oil','Coal','Misc.'], datum.cat) >= 0", "value": {"expr": "datum.cat"}}, "value": ""},
     "size": {"condition": {"test": "indexof(['Peat','Oil','Coal','Misc.'], datum.cat) >= 0", "value": 16}, "value": 0}}},
   {"mark": {"type": "text", "radius": 196, "dy": 10},
    "encoding": {"text": {"condition": {"test": "indexof(['Peat','Oil','Coal','Misc.'], datum.cat) >= 0", "value": {"expr": "format(datum.share, '.0%')"}}, "value": ""},
     "size": {"condition": {"test": "indexof(['Peat','Oil','Coal','Misc.'], datum.cat) >= 0", "value": 16}, "value": 0}}},
   {"mark": {"type": "text", "radius": 192, "dx": 15, "dy": -10, "fontWeight": "bold"},
    "encoding": {"text": {"condition": {"test": "indexof(['Waste','Biogas'], datum.cat) >= 0", "value": {"expr": "datum.cat"}}, "value": ""},
     "size": {"condition": {"test": "indexof(['Waste','Biogas'], datum.cat) >= 0", "value": 16}, "value": 0}}},
   {"mark": {"type": "text", "radius": 192, "dx": 15, "dy": 10},
    "encoding": {"text": {"condition": {"test": "indexof(['Waste','Biogas'], datum.cat) >= 0", "value": {"expr": "format(datum.share, '.0%')"}}, "value": ""},
     "size": {"condition": {"test": "indexof(['Waste','Biogas'], datum.cat) >= 0", "value": 16}, "value": 0}}},
   {"mark": {"type": "text", "radius": 190, "dx": -20, "dy": -10, "fontWeight": "bold"},
    "encoding": {"text": {"condition": {"test": "indexof(['Waste heat','Hot water'], datum.cat) >= 0", "value": {"expr": "datum.cat"}}, "value": ""},
     "size": {"condition": {"test": "indexof(['Waste heat','Hot water'], datum.cat) >= 0", "value": 16}, "value": 0}}},
   {"mark": {"type": "text", "radius": 190, "dx": -20, "dy": 10},
    "encoding": {"text": {"condition": {"test": "indexof(['Waste heat','Hot water'], datum.cat) >= 0", "value": {"expr": "format(datum.share, '.0%')"}}, "value": ""},
     "size": {"condition": {"test": "indexof(['Waste heat','Hot water'], datum.cat) >= 0", "value": 16}, "value": 0}}}
  ]
 }
]
}
